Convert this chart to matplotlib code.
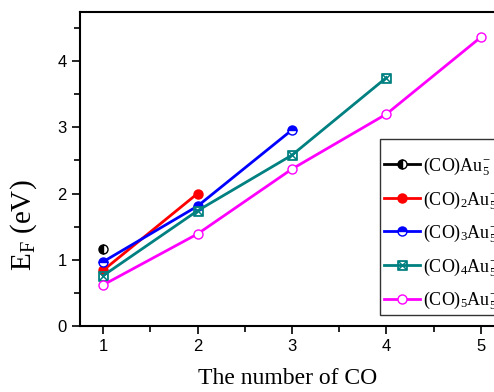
import matplotlib
matplotlib.use("Agg")
import matplotlib.pyplot as plt
from matplotlib.ticker import MultipleLocator

# 데이터
n_co = [1, 2, 3, 4, 5]
ef_co1 = [1.16]
ef_co2 = [0.84, 2.00]
ef_co3 = [0.97, 1.81, 2.96]
ef_co4 = [0.76, 1.74, 2.58, 3.75]
ef_co5 = [0.62, 1.39, 2.37, 3.20, 4.36]
labels = [r"(CO)Au$_5^{-}$", r"(CO)$_2$Au$_5^{-}$", r"(CO)$_3$Au$_5^{-}$",
          r"(CO)$_4$Au$_5^{-}$", r"(CO)$_5$Au$_5^{-}$"]

plt.rcParams['mathtext.fontset'] = 'custom'
plt.rcParams['mathtext.rm'] = 'Liberation Serif'
plt.rcParams['mathtext.it'] = 'Liberation Serif'

fig = plt.figure(figsize=(4.94, 3.92), dpi=100)
# 오른쪽 축은 그림 밖으로 살짝 나감
ax = fig.add_axes([80/494, 1 - 326/392, 416/494, 314/392])

lw = 2
ms = 6.5
ax.plot(n_co[:1], ef_co1, color='black', lw=lw, marker='o', ms=ms,
        fillstyle='left', mfc='black', mfcalt='white', mec='black', label=labels[0])
ax.plot(n_co[:2], ef_co2, color='red', lw=lw, marker='o', ms=ms,
        mfc='red', mec='red', label=labels[1])
ax.plot(n_co[:3], ef_co3, color='blue', lw=lw, marker='o', ms=ms,
        fillstyle='top', mfc='blue', mfcalt='white', mec='blue', label=labels[2])
ax.plot(n_co[:4], ef_co4, color='#008080', lw=lw, marker=r'$\boxtimes$', ms=7,
        mec='#008080', mew=0.6, label=labels[3])
ax.plot(n_co[:5], ef_co5, color='magenta', lw=lw, marker='o', ms=ms,
        mfc='white', mec='magenta', label=labels[4])

ax.set_xlim(0.755, 5.16)
ax.set_ylim(0, 4.74)
ax.xaxis.set_major_locator(MultipleLocator(1))
ax.xaxis.set_minor_locator(MultipleLocator(0.5))
ax.yaxis.set_major_locator(MultipleLocator(1))
ax.yaxis.set_minor_locator(MultipleLocator(0.5))
ax.tick_params(which='both', direction='out', width=1.2, labelsize=12,
               top=False, right=False)
ax.tick_params(which='major', length=6)
ax.tick_params(which='minor', length=4)
for t in ax.get_xticklabels() + ax.get_yticklabels():
    t.set_family('Liberation Sans')
for s in ax.spines.values():
    s.set_linewidth(1.5)

ax.set_xlabel("The number of CO", family='Liberation Serif', fontsize=17, labelpad=10)
ax.set_ylabel(r"E$_\mathrm{F}$ (eV)", family='Liberation Serif', fontsize=21)
ax.yaxis.set_label_coords(-0.098, 0.32)

# 범례 위쪽 여백이 더 넓어서 빈 제목으로 맞춤
leg = fig.legend(loc='upper left', bbox_to_anchor=(380/494, 1 - 139/392),
                 prop={'family': 'Liberation Serif', 'size': 13},
                 title=' ', title_fontsize=0.5,
                 frameon=True, fancybox=False, edgecolor='black',
                 handlelength=2.0, handletextpad=0.2, labelspacing=0.64,
                 borderpad=0.2, borderaxespad=0)
leg.get_frame().set_linewidth(1.0)

fig.savefig("out.png", dpi=100)
